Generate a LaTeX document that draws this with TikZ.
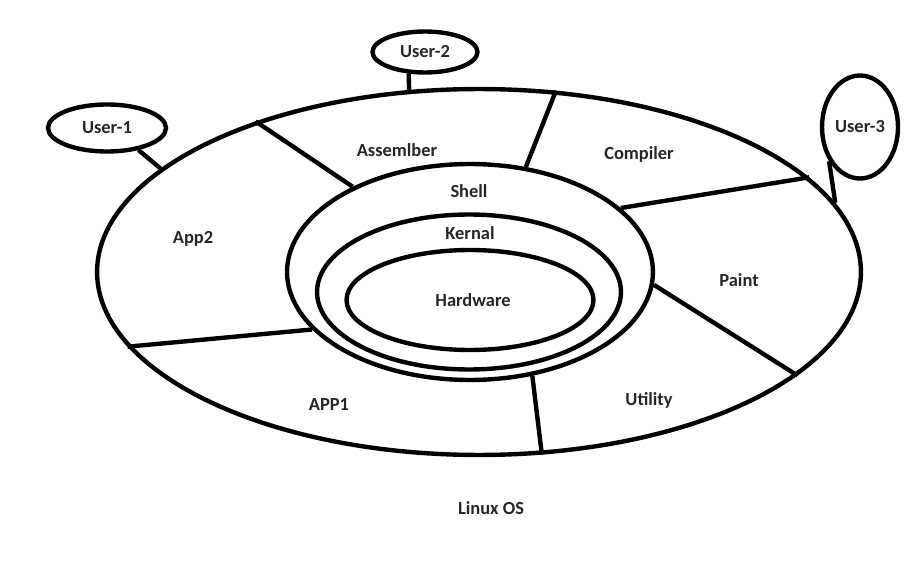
\documentclass[tikz,border=0pt]{standalone}
\usepackage{fontspec}
\setmainfont{Carlito}
\usepackage{tikz}
\usetikzlibrary{shapes.geometric}
\tikzset{
  ring/.style={ellipse,draw,line width=2.5pt,inner sep=0pt},
  usr/.style={ellipse,draw,line width=2.5pt,inner sep=0pt,text=black!85,font=\bfseries\fontsize{10.5}{12}\selectfont},
  lbl/.style={text=black!85,font=\bfseries\fontsize{10.5}{12}\selectfont,inner sep=1pt},
  divl/.style={line width=2.5pt}
}
\begin{document}
\begin{tikzpicture}[x=0.02cm,y=-0.02cm]
  \useasboundingbox (0,0) rectangle (916,574);
  % rings
  \node[ring,minimum width=15.28cm,minimum height=7.32cm] (os) at (479,272) {};
  \node[ring,minimum width=7.32cm,minimum height=4.32cm] (shell) at (470,272) {};
  \node[ring,minimum width=6.08cm,minimum height=3.1cm] (kern) at (469,292) {};
  \node[ring,minimum width=4.94cm,minimum height=2.0cm] (hw) at (470,300) {};
  % users
  \node[usr,minimum width=2.36cm,minimum height=0.94cm] (u1) at (107,128) {User-1};
  \node[usr,minimum width=2.1cm,minimum height=0.82cm] (u2) at (425,52) {User-2};
  \node[usr,minimum width=1.52cm,minimum height=2.06cm] (u3) at (860,127) {User-3};
  \draw[divl] (u1.-35)--(os.162.3);
  \draw[divl] (u2.-127)--(os.111);
  \draw[divl] (u3.-132)--(os.11);
  % dividers
  \draw[divl] (os.146.5)--(shell.144.3);
  \draw[divl] (os.67.8)--(shell.62.4);
  \draw[divl] (os.16.4)--(shell.23.7);
  \draw[divl] (os.-18.7)--(shell.-4.7);
  \draw[divl] (os.-71.1)--(shell.-59.8);
  \draw[divl] (os.-168.2)--(shell.-160.7);
  % labels
  \node[lbl] (asm) at (397,150) {Assemlber};
  \node[lbl] (comp) at (639,154) {Compiler};
  \node[lbl] (paint) at (739,280) {Paint};
  \node[lbl] (util) at (649,400) {Utility};
  \node[lbl] (app1) at (329,405) {APP1};
  \node[lbl] (app2) at (193,239) {App2};
  \node[lbl] (sh) at (469,191) {Shell};
  \node[lbl] (kl) at (470,233) {Kernal};
  \node[lbl] (hl) at (473,300) {Hardware};
  \node[lbl] (linux) at (491,508) {Linux OS};
\end{tikzpicture}
\end{document}
